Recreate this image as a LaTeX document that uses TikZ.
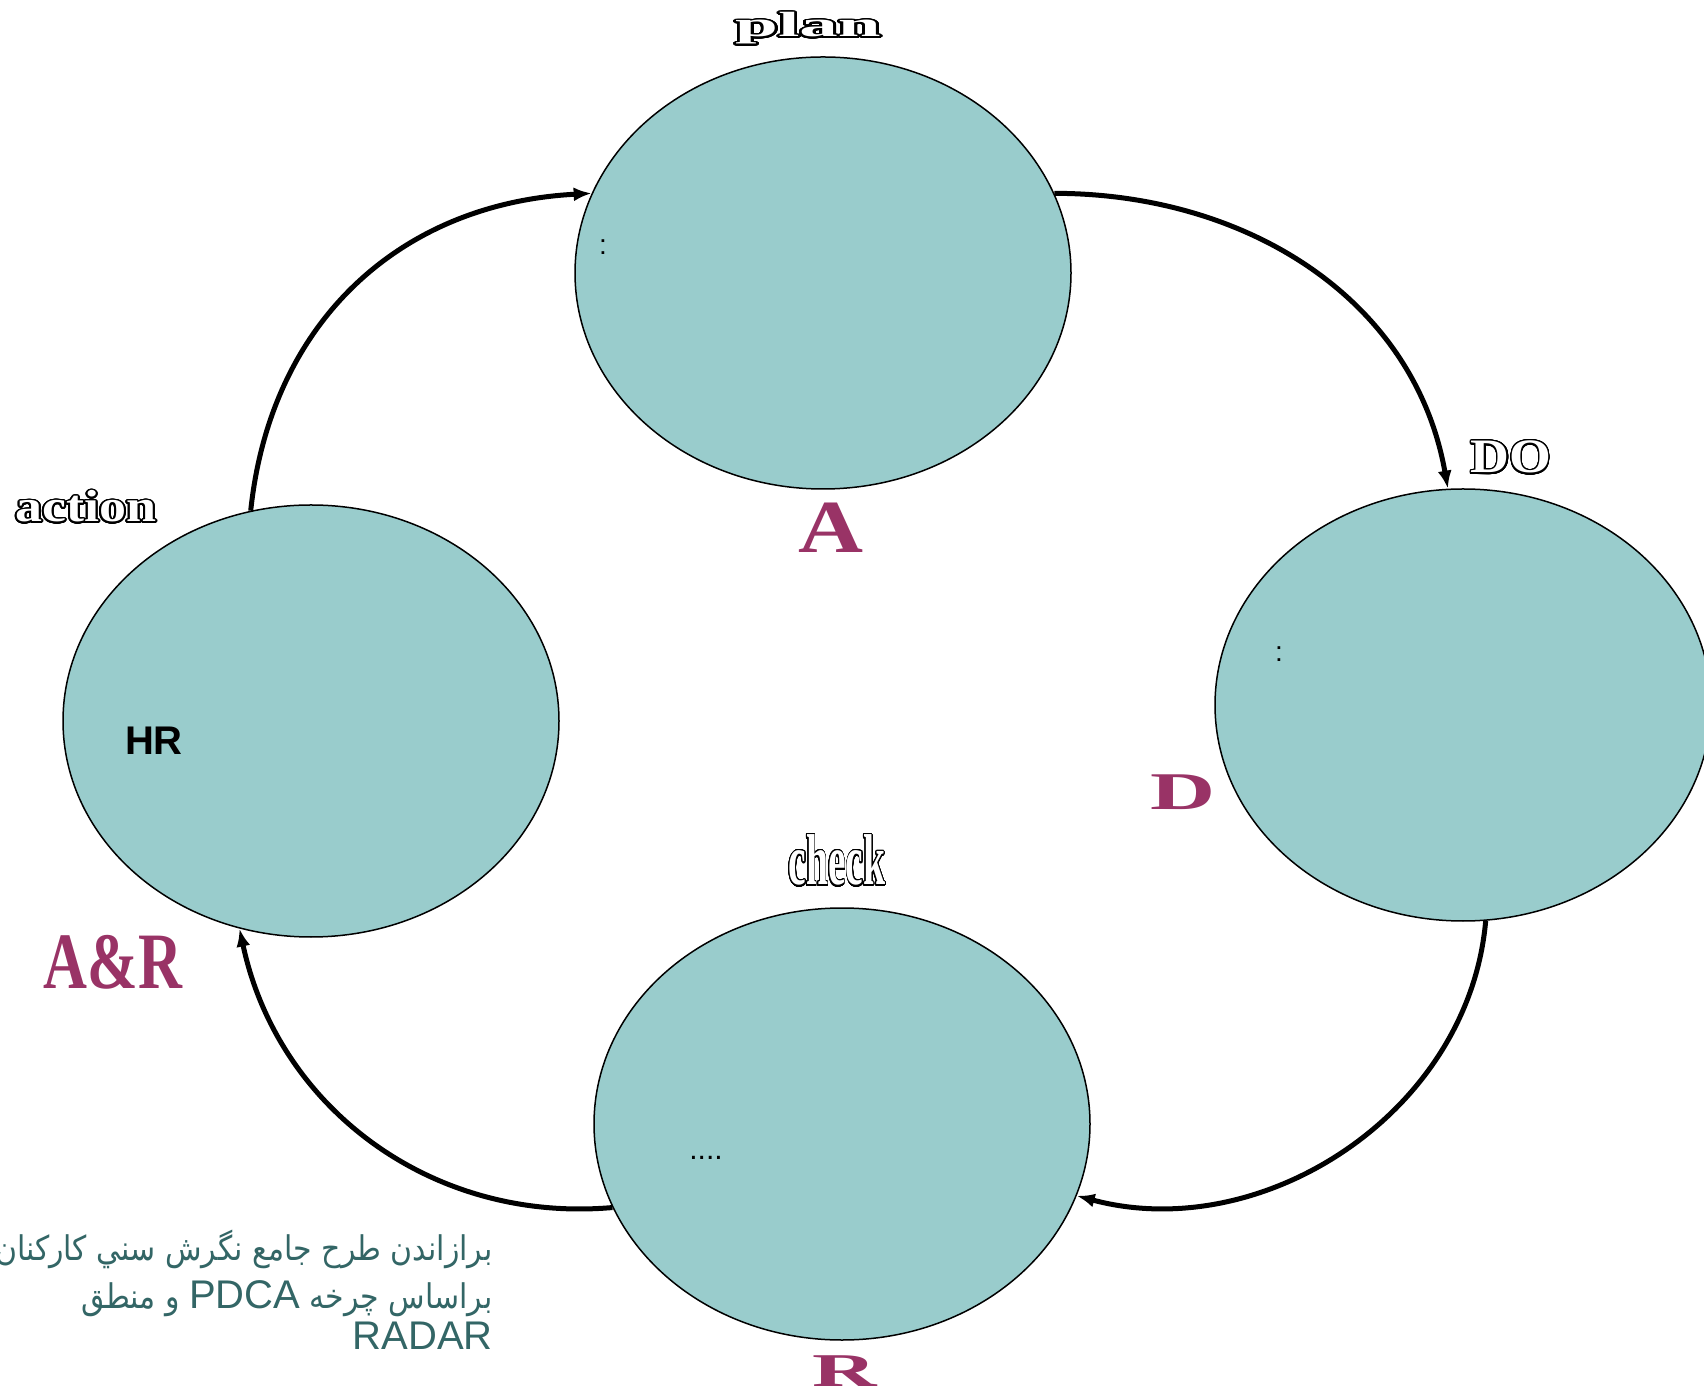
\documentclass[tikz,border=0pt]{standalone}
\usepackage{fontspec}
\usepackage{graphicx}
\usepackage{contour}
\usetikzlibrary{shapes.geometric,arrows.meta}
\setmainfont{Liberation Serif}
\newfontfamily\latinsans{Liberation Sans}
\newfontfamily\arabicfont[Script=Arabic]{DejaVu Sans}
\TeXXeTstate=1
\definecolor{ellcol}{RGB}{153,204,204}
\definecolor{magcol}{RGB}{153,51,102}
\definecolor{tealcol}{RGB}{51,102,102}
\contourlength{1.3pt}
\contournumber{40}
\newcommand\outlinetext[1]{\textcolor{white}{\contour{black}{#1}}}
\tikzset{
  ell/.style={ellipse, draw=black, line width=1.5pt, fill=ellcol, minimum width=496pt, minimum height=432pt, inner sep=0pt},
  lbl/.style={inner sep=0pt, anchor=base},
  mag/.style={inner sep=0pt, anchor=base, text=magcol, font=\bfseries},
  ar/.style={inner sep=0pt, anchor=base east, text=tealcol},
  flow/.style={line width=5pt, -{Latex[length=18pt,width=14pt]}},
}
\begin{document}
\begin{tikzpicture}[x=1pt,y=1pt]
\useasboundingbox (0,0) rectangle (1704,1393);
% ellipses
\node[ell] (plan) at (823,1120) {};
\node[ell] (do) at (1463,688) {};
\node[ell] (action) at (311,672) {};
\node[ell] (check) at (842,269) {};
% connectors
\draw[flow] (plan.19) to[out=0,in=100] (do.94);
\draw[flow] (do.-84) to[out=-95,in=-15] (check.-17);
\draw[flow] (check.-160) to[out=185,in=-78] (action.-109);
\draw[flow] (action.106) to[out=84,in=183,looseness=1.05] (plan.161);
% outlined labels
\node[lbl] (planlbl) at (808,1356) {\scalebox{2.2}[1]{\fontsize{35}{40}\selectfont\bfseries\outlinetext{plan}}};
\node[lbl] (actionlbl) at (86,871) {\scalebox{1.2}[1]{\fontsize{45}{50}\selectfont\bfseries\outlinetext{action}}};
\node[lbl] (dolbl) at (1511,920) {\scalebox{1.12}[1]{\fontsize{48}{52}\selectfont\bfseries\outlinetext{DO}}};
\node[lbl] (checklbl) at (837,508) {\scalebox{0.55}[1]{\fontsize{72}{80}\selectfont\bfseries\outlinetext{check}}};
% magenta letters
\node[mag] (albl) at (831,840) {\scalebox{1.2}[1]{\fontsize{75}{80}\selectfont A}};
\node[mag] (dlbl) at (1183,583) {\scalebox{1.7}[1]{\fontsize{53}{60}\selectfont D}};
\node[mag] (arlbl) at (113,405) {\scalebox{0.76}[1]{\fontsize{80}{90}\selectfont A\&R}};
\node[mag] (rlbl) at (845,7) {\scalebox{1.9}[1]{\fontsize{47}{50}\selectfont R}};
% inner texts
\node[lbl] (hr) at (154,638) {\latinsans\bfseries\fontsize{40}{44}\selectfont HR};
\node[lbl] (c1) at (603,1138) {\latinsans\fontsize{28}{30}\selectfont :};
\node[lbl] (c2) at (1279,731) {\latinsans\fontsize{28}{30}\selectfont :};
\node[lbl] (dots) at (706,234) {\latinsans\fontsize{30}{32}\selectfont ....};
% persian caption
\node[ar] (t1) at (493,133) {\scalebox{0.88}[1]{\arabicfont\fontsize{34}{44}\selectfont\beginR برازاندن طرح جامع نگرش سني كاركنان\endR}};
\node[ar] (t2) at (493,85) {\scalebox{0.88}[1]{\arabicfont\fontsize{34}{44}\selectfont\beginR براساس چرخه \beginL{\latinsans\fontsize{40}{44}\selectfont\scalebox{1.136}[1]{PDCA}}\endL{} و منطق\endR}};
\node[ar] (t3) at (493,44) {\latinsans\fontsize{40}{44}\selectfont RADAR};
\end{tikzpicture}
\end{document}
